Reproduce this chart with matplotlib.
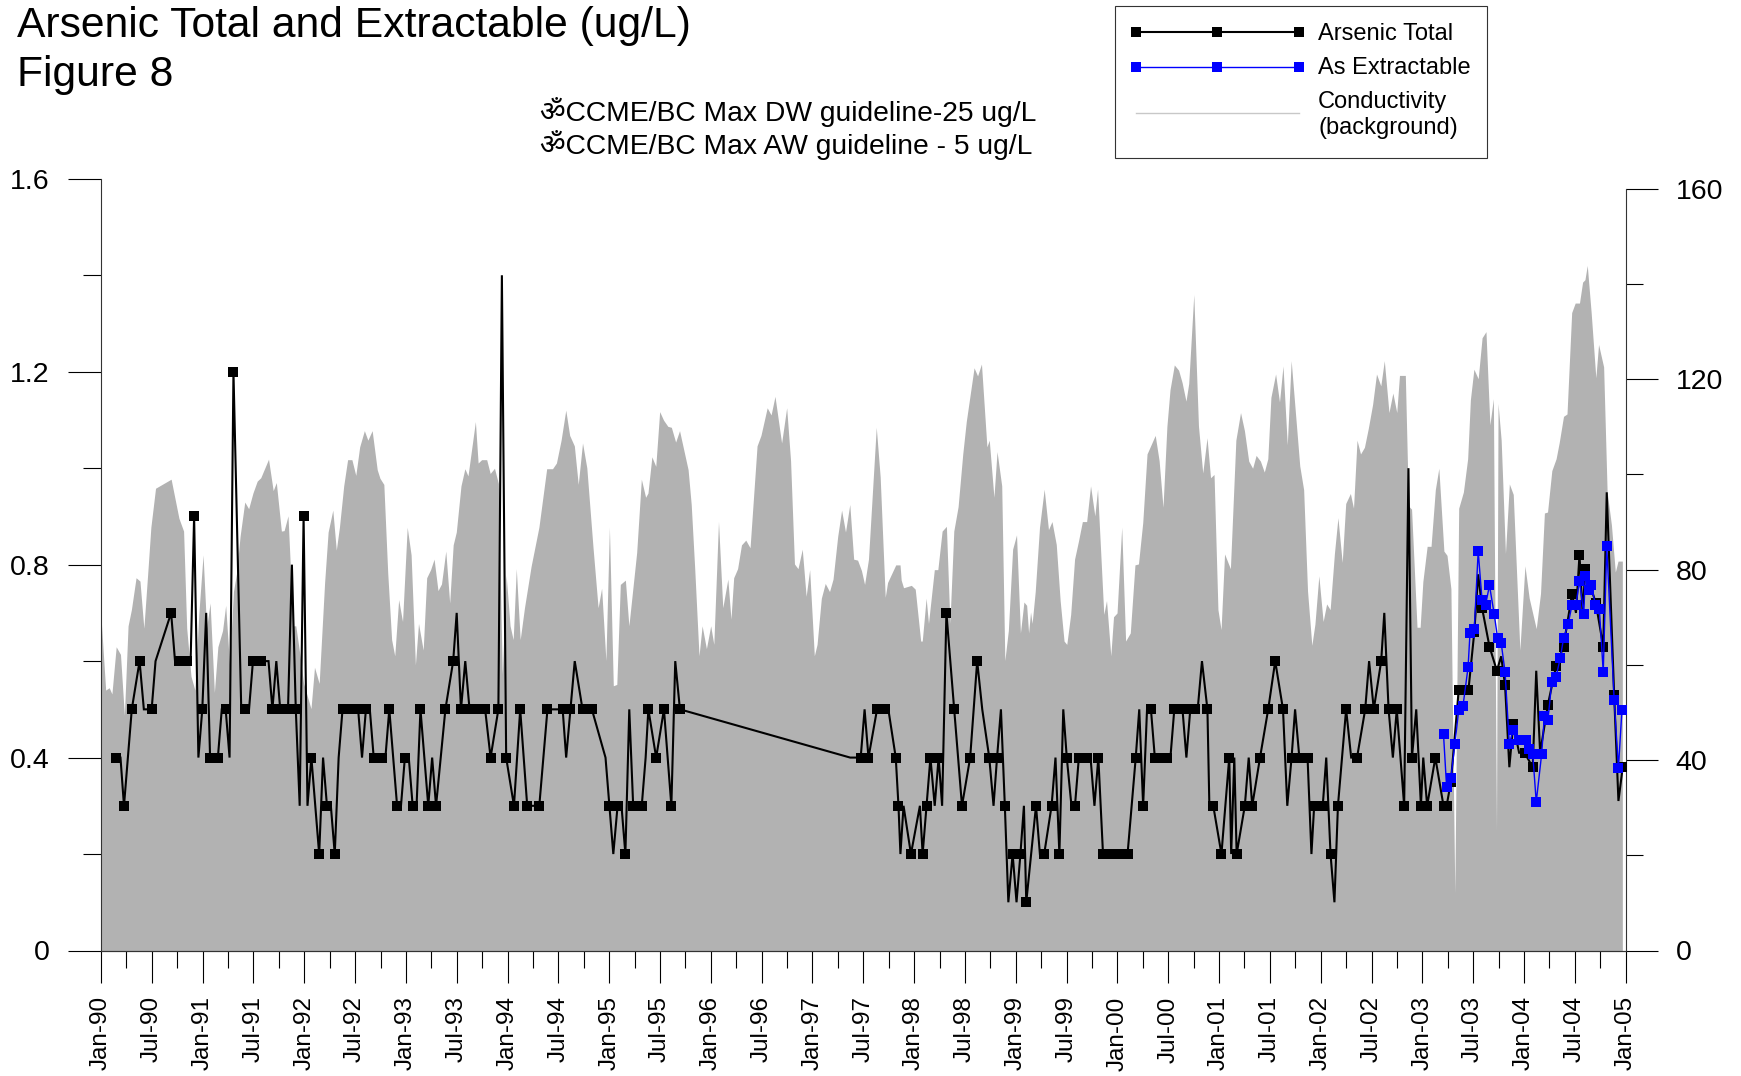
import matplotlib
matplotlib.use('Agg')
import matplotlib.pyplot as plt
from matplotlib.lines import Line2D
from matplotlib.patches import Rectangle
from matplotlib.ticker import MultipleLocator, FixedLocator, FixedFormatter

plt.rcParams['font.family'] = ['Liberation Sans', 'Noto Sans', 'DejaVu Sans']

# sampling runs on a 14 day cycle, so time is kept as fortnights since Jan-90
FORTNIGHT = 14 / 365.25

total_k = [
    3.9, 5, 5.9, 7.9, 9.9, 11, 11.8, 13, 14, 18,
    19, 20, 21, 22, 23, 23.9, 25, 26, 27, 28,
    29, 30, 31, 32, 33, 34, 36, 37, 38, 39,
    40, 41, 42, 43, 44, 45, 46, 47, 48, 49,
    50, 51, 52, 53, 54, 55, 56, 57, 58, 59,
    60, 61, 62, 63, 64, 65, 66, 67, 68, 69,
    70, 71, 72, 73, 74, 76, 77, 78, 79, 80,
    81, 82, 84, 85, 86, 88.4, 90.4, 91.3, 92.4, 93.5,
    94.6, 95.6, 96.6, 97.6, 98.6, 100, 102, 102.9, 104, 106,
    107.6, 109.4, 110.5, 112.5, 114.6, 116.7, 118.5, 119.4, 120.5, 121.6,
    123.6, 126, 129.5, 130.5, 131.5, 132.6, 133.6, 134.6, 135.6, 136.6,
    137.7, 138.8, 139.8, 140.5, 142.5, 144.5, 146.4, 147.4, 148.6, 192.3,
    195, 196, 197, 199.2, 201.2, 202.1, 204, 204.7, 205.2, 206,
    207.9, 210.2, 210.9, 211.9, 212.9, 214, 215, 215.9, 217, 219,
    221, 223.1, 224.9, 226.2, 228, 229.1, 230, 231, 232, 232.9,
    234, 235, 236, 236.9, 237.5, 240, 241, 242.1, 244, 245,
    246, 247, 247.9, 249.1, 250, 251, 252, 253, 254, 255,
    256, 257.2, 258.3, 259.3, 260.3, 261.3, 262.3, 263.5, 265.6, 266.5,
    267.5, 268.5, 269.5, 270.5, 271.6, 272.5, 273.6, 274.5, 275.5, 276.6,
    277.6, 278.6, 279.6, 280.7, 281.5, 282.6, 284, 284.5, 285.5, 287.6,
    289.6, 290.1, 290.9, 291.5, 293.6, 294.6, 295.5, 297.5, 299.6, 301.4,
    303.4, 304.5, 305.6, 306.5, 307.6, 309.7, 310.7, 311.4, 313.6, 314.5,
    315.6, 316.6, 317.5, 319.6, 320.9, 322.4, 324.5, 325.5, 326.7, 328.6,
    329.4, 330.5, 331.6, 332.6, 334.5, 335.6, 336.5, 337.6, 338.8, 339.4,
    340.4, 342.5, 344.6, 345.4, 346.5, 348.5, 351, 352.5, 353.5, 354.5,
    356.4, 358.3, 359.4, 360.4, 361.5, 362.5, 364, 365.4, 367.5, 368.4,
    369.4, 371.4, 373.5, 375.4, 377.6, 378.6, 379.5, 380.3, 381, 383.7,
    385.6, 386.5, 388.4, 389.5, 390.6,
]
total_val = [
    .4, .4, .3, .5, .6, .5, .5, .5, .6, .7,
    .6, .6, .6, .6, .6, .9, .4, .5, .7, .4,
    .4, .4, .5, .5, .4, 1.2, .5, .5, .5, .6,
    .6, .6, .6, .6, .5, .6, .5, .5, .5, .8,
    .5, .3, .9, .3, .4, .3, .2, .4, .3, .3,
    .2, .4, .5, .5, .5, .5, .5, .4, .5, .5,
    .4, .4, .4, .4, .5, .3, .3, .4, .4, .3,
    .3, .5, .3, .4, .3, .5, .6, .7, .5, .6,
    .5, .5, .5, .5, .5, .4, .5, 1.4, .4, .3,
    .5, .3, .3, .3, .5, .5, .5, .4, .5, .6,
    .5, .5, .4, .3, .2, .3, .3, .2, .5, .3,
    .3, .3, .4, .5, .4, .5, .3, .6, .5, .4,
    .4, .5, .4, .5, .5, .5, .4, .3, .2, .3,
    .2, .3, .2, .3, .4, .3, .4, .3, .7, .5,
    .3, .4, .6, .5, .4, .3, .4, .5, .3, .1,
    .2, .1, .2, .3, .1, .3, .2, .2, .3, .4,
    .2, .5, .4, .3, .3, .4, .4, .4, .4, .3,
    .4, .2, .2, .2, .2, .2, .2, .2, .4, .5,
    .3, .5, .5, .4, .4, .4, .4, .4, .5, .5,
    .5, .4, .5, .5, .5, .6, .5, .3, .3, .2,
    .4, .2, .4, .2, .3, .4, .3, .4, .5, .6,
    .5, .3, .4, .5, .4, .4, .2, .3, .3, .4,
    .2, .1, .3, .5, .4, .4, .5, .6, .5, .6,
    .7, .5, .4, .5, .3, 1.0, .4, .5, .3, .4,
    .3, .4, .3, .3, .35, .54, .54, .66, .78, .71,
    .63, .58, .61, .55, .38, .47, .41, .41, .38, .58,
    .41, .51, .59, .63, .74, .7, .82, .7, .79, .72,
    .63, .95, .53, .31, .38,
]
# samples plotted without a square on the original
total_no_marker = [
    5, 11, 11.8, 14, 19, 23, 25, 27, 31, 33, 36, 38, 42, 43, 45, 49, 51, 53, 55, 57, 59, 61,
    67, 69, 73, 77, 79, 81, 85, 91.3, 93.5, 102.9, 110.5, 116.7, 119.4, 121.6, 129.5, 131.5,
    133.6, 135.6, 137.7, 139.8, 147.4, 192.3, 196, 202.1, 205.2, 206, 210.2, 214, 215.9,
    226.2, 229.1, 231, 232.9, 235, 236.9, 241, 245, 247, 249.1, 254, 255, 266.5, 268.5, 271.6,
    274.5, 278.6, 281.5, 282.6, 284.5, 290.1, 290.9, 294.6, 304.5, 306.5, 310.7, 314.5, 316.6,
    320.9, 325.5, 329.4, 331.6, 335.6, 337.6, 339.4, 353.5, 359.4, 361.5, 364, 368.4, 369.4,
    378.6, 380.3, 386.5, 389.5,
]

extract_k = [
    344.6, 345.4, 346.5, 347.5, 348.5, 349.6, 350.9, 351.4, 352.5, 353.5,
    354.5, 355.4, 356.4, 357.6, 358.5, 359.4, 360.4, 361.5, 362.5, 364,
    365.7, 366.6, 367.5, 368.4, 369.8, 370.5, 371.4, 372.4, 373.5, 374.6,
    375.4, 376.6, 377.6, 378.6, 379.5, 380.6, 381, 381.9, 382.5, 383.6,
    384.6, 385.6, 386.5, 388.4, 389.5, 390.4,
]
extract_val = [
    .448, .338, .357, .428, .498, .507, .587, .658, .666, .828,
    .726, .717, .757, .698, .647, .638, .577, .428, .457, .437,
    .437, .418, .408, .308, .408, .487, .478, .557, .568, .607,
    .647, .677, .717, .717, .767, .698, .777, .748, .757, .717,
    .708, .577, .838, .52, .379, .498,
]

cond_k = [
    0, 1.2, 2.1, 2.8, 3.9, 5, 6, 6.95, 7.8, 9, 10, 11, 12, 12.8, 14, 18, 20, 21.2, 22, 23.1,
    24.1, 25.1, 26.2, 27.1, 28, 29.1, 30, 31.2, 32, 33, 34, 34.8, 35.7, 36.9, 37.9, 39, 40.1,
    41, 43, 44.2, 45, 46.3, 47, 48, 49.3, 50, 51.1, 52, 53.9, 54.8, 56, 57.4, 58.3, 59.5, 60.4,
    61.2, 62.3, 63.3, 64.4, 65.4, 66.4, 67.6, 68.5, 69.6, 70.9, 71.6, 72.6, 73.6, 74.6, 75.4,
    76.4, 77.4, 78.6, 79.6, 80.7, 81.5, 82.7, 83.6, 84.6, 85.5, 86.5, 87.4, 88.5, 89.5, 90.4,
    91.2, 92.4, 93.4, 94.2, 96.1, 96.8, 97.7, 99, 99.9, 101, 102, 103, 104, 105, 105.8, 106.6,
    107.6, 108.7, 110.4, 112.4, 114.4, 115.9, 116.9, 118.1, 119.3, 120.3, 121.5, 122.5, 123.6,
    124.7, 126.3, 127.6, 128.5, 129.6, 130.5, 131.5, 132.4, 133.3, 134.6, 135.5, 137.5, 138.7,
    139.8, 140.4, 141.4, 142.4, 143.4, 144.4, 145.5, 146.4, 147.5, 148.5, 150.7, 151.5, 152.4,
    153.5, 154.3, 155.4, 156.5, 157.3, 158.5, 159.6, 160.9, 161.7, 162.4, 163.4, 164.4, 165.5,
    166.6, 168.4, 169.4, 171, 172, 173, 174.7, 176, 177, 178, 178.9, 180, 181, 181.9, 183.1,
    183.8, 184.9, 185.9, 187, 187.9, 189.1, 190.1, 191.1, 192.2, 193.2, 194.2, 195.2, 196, 197,
    199, 200, 201.3, 201.9, 204, 205.1, 205.4, 206, 208, 209, 210.4, 210.8, 211.8, 212.4, 213.9,
    214.8, 215.9, 217, 217.9, 218.9, 220, 221.2, 222.1, 224.1, 225, 226, 227.4, 228, 229.2, 230,
    231.2, 232, 232.9, 234, 235, 236, 236.9, 237.6, 238.1, 238.6, 239, 239.8, 240.9, 242.1,
    243.2, 244.1, 245.2, 246.2, 247.2, 247.9, 248.9, 249.9, 250.9, 251.9, 253, 254, 255.1, 255.8,
    257.4, 258.1, 259.2, 259.9, 260.8, 262, 263, 264.2, 265.4, 266.3, 267.4, 268.5, 270.6, 271.6,
    272.6, 273.6, 274.4, 275.5, 276.6, 277.5, 278.5, 279.2, 280.5, 281.7, 282.8, 283.9, 284.8,
    285.7, 286.7, 287.5, 288.4, 289.9, 291.3, 292.5, 293.5, 294.6, 295.6, 296.5, 297.6, 298.6,
    299.5, 300.3, 301.5, 302.5, 303.4, 304.5, 305.5, 307.7, 308.7, 309.7, 310.8, 311.6, 312.6,
    313.7, 314.6, 315.5, 316.6, 317.5, 318.6, 319.5, 320.7, 321.5, 322.4, 323.3, 324.3, 325.3,
    326.4, 327.4, 328.5, 329.4, 330.6, 331.6, 332.6, 333.3, 334.8, 335.6, 336.4, 337.8, 338.6,
    339.3, 340.4, 341.4, 342.5, 343.4, 344.7, 345.5, 346.5, 347.5, 348.5, 349.7, 350.8, 351.5,
    352.4, 353.5, 354.5, 355.5, 356.5, 357.4, 358.2, 358.6, 359.4, 360.5, 361.5, 362.5, 364.2,
    365.5, 366.6, 368.4, 369.5, 370.5, 371.3, 372.4, 373.5, 374.3, 375.4, 376.3, 377.5, 378.4,
    379.5, 380.3, 380.9, 381.5, 382.5, 383.7, 384.4, 385.7, 386.6, 387.7, 388.7, 389.4, 390.5,
]
cond_val = [
    70.1, 54.7, 55.2, 53.9, 63.8, 62.2, 49.4, 68.2, 71.6, 78.3, 77.6, 67.7, 79.3, 88.9, 97.1, 99, 90.8, 88.1, 67.7, 57.6,
    54.7, 70.6, 83.1, 67.7, 73, 54.2, 63.8, 67.2, 72.5, 60, 75.4, 79.3, 87, 94.2, 92.8, 96.1, 98.6,
    99.3, 103.2, 96.6, 98.3, 88.1, 88.2, 91.3, 68.2, 68.2, 61.9, 56.1, 50.8, 59.5, 56.1, 77.3, 87.9, 92.5, 84.1,
    88.9, 97.6, 103.1, 103.1, 99.8, 105.8, 109.2, 107.2, 109.2, 101, 99.2, 97.9, 79.3, 65.3, 61.9,
    73.7, 69.1, 88.9, 83.1, 60, 68.7, 63.1, 78.3, 80, 82.2, 75.6, 77, 83.9, 73, 85.2,
    87.9, 97.6, 101.2, 99.7, 111.1, 102.4, 103.1, 103.1, 100.2, 101.3, 98.1, 58, 78.8, 68.2, 65.3, 80.2,
    65.3, 72, 80.7, 88.9, 101.2, 101.2, 102.4, 107.2, 113.5, 108.2, 106, 97.9, 106.6,
    101.4, 84.6, 72, 76.1, 60.9, 88.9, 55.6, 55.9, 76.9, 77.8, 68.2, 83.6, 99,
    95.2, 96.1, 103.7, 101.7, 113.2, 111.4, 110.1, 109.9, 106.8, 109.2, 101, 93.7, 80.2,
    61.9, 68.2, 63.4, 68.2, 64.3, 90.1, 72, 78, 69.6, 78.3, 80.2, 85.2, 86.2,
    84.6, 106, 108.2, 114, 112.5, 116.4, 106.6, 114, 102.9, 81.2, 80.2, 84.3, 74.4, 80, 61.9,
    64.3, 74, 77.1, 75.4, 78, 87, 92.5, 87.9, 93.7, 82.2, 82, 79.8, 76.9, 82.2,
    109.9, 99.5, 74.2, 77.3, 81, 81, 77.8, 76.2, 76.7, 75.9, 65, 65, 74, 68.7, 80,
    80, 88.1, 89.1, 68.7, 88.1, 93.2, 104.3, 111.1, 122.4, 120.7, 123.2, 105.8, 107.2, 95.2, 104.8,
    97.6, 60.9, 67.2, 84.3, 87.3, 66.7, 73.2, 72.5, 66.7, 71.1, 68.7, 75.4, 88.9, 96.9,
    88.4, 90.1, 85.3, 73.5, 65, 64.3, 70.6, 82.2, 86, 90.1, 90.1, 97.6, 91.3, 96.9,
    70.6, 73.5, 61.9, 70.1, 70.9, 88.9, 65, 66.7, 81, 81.2, 89.9, 104.3, 108.2, 102.9,
    93.1, 110.1, 117.8, 123, 121.9, 119.3, 115.4, 119.1, 137.8, 110.2, 100.3, 107.7, 99.3,
    100, 71.6, 67.4, 83.3, 80.2, 107.2, 113, 109.2, 102.8, 101.3, 104, 102.8, 100.5,
    103.3, 116.2, 121.1, 115.2, 122.8, 106.2, 123.9, 101.8, 96.8, 75.5, 64.1, 68.6, 78.7,
    69.1, 72.8, 71.6, 83.4, 90.9, 81.5, 93.9, 96, 92.9, 107.2, 104.3, 105.7, 109.7,
    114.7, 121.1, 118.6, 123.9, 113, 117.1, 113, 120.8, 120.8, 93.4, 92.7, 67.9, 67.9,
    77.5, 84.9, 84.9, 96.8, 101.3, 83.9, 83, 76, 12.1, 92.9, 96.3, 103.3, 115.7,
    122.1, 120.1, 128.7, 130, 110.4, 115.9, 25, 114.9, 107.2, 83.4, 98, 95.8, 63.1,
    80.8, 74, 67.6, 75, 91.9, 92.1, 100.8, 103.3, 106.7, 112.2, 112.7, 134, 136,
    136, 140.4, 140.9, 143.9, 134, 120.3, 127.3, 122.6, 96.3, 89.4, 79.5, 81.8, 81.8,
]

date_labels = ['Jan-90', 'Jul-90', 'Jan-91', 'Jul-91', 'Jan-92', 'Jul-92', 'Jan-93', 'Jul-93',
               'Jan-94', 'Jul-94', 'Jan-95', 'Jul-95', 'Jan-96', 'Jul-96', 'Jan-97', 'Jul-97',
               'Jan-98', 'Jul-98', 'Jan-99', 'Jul-99', 'Jan-00', 'Jul-00', 'Jan-01', 'Jul-01',
               'Jan-02', 'Jul-02', 'Jan-03', 'Jul-03', 'Jan-04', 'Jul-04', 'Jan-05']
left_ticks = [0, 0.4, 0.8, 1.2, 1.6]
left_labels = ['0', '0.4', '0.8', '1.2', '1.6']
right_ticks = [0, 40, 80, 120, 160]


def to_year(k_values):
    return [1990 + k * FORTNIGHT for k in k_values]


W, H = 1741, 1076
fig = plt.figure(figsize=(W / 100, H / 100), dpi=100)
ax = fig.add_axes([101 / W, (H - 950.5) / H, 1524.6 / W, 771.7 / H])
ax2 = ax.twinx()
ax.set_zorder(ax2.get_zorder() + 1)
ax.patch.set_visible(False)

# background conductivity
ax2.fill_between(to_year(cond_k), cond_val, 0, color='#B2B2B2', lw=0)

marks = [i for i, k in enumerate(total_k) if k not in total_no_marker]
ax.plot(to_year(total_k), total_val, color='black', lw=1.5, marker='s', ms=7, mew=0,
        markevery=marks, solid_joinstyle='miter')
ax.plot(to_year(extract_k), extract_val, color='#0000FF', lw=1.0, marker='s', ms=7, mew=0)

ax.set_xlim(1990, 2005)
ax.set_ylim(0, 1.6)
ax2.set_ylim(0, 160 * 771.7 / 761.7)

for side in ['top', 'right']:
    ax.spines[side].set_visible(False)
for side in ['top', 'left']:
    ax2.spines[side].set_visible(False)
ax2.spines['right'].set_bounds(0, 160)
for a in [ax, ax2]:
    for s in a.spines.values():
        s.set_linewidth(0.8)
        s.set_color('#333333')

major_x = [1990 + i / 2 for i in range(len(date_labels))]
ax.xaxis.set_major_locator(FixedLocator(major_x))
ax.xaxis.set_major_formatter(FixedFormatter(date_labels))
ax.xaxis.set_minor_locator(MultipleLocator(0.25))
ax.tick_params(axis='x', which='major', length=23, width=0.8, pad=10, labelsize=17.5, labelrotation=90)
ax.tick_params(axis='x', which='minor', length=12, width=0.8)

ax.yaxis.set_major_locator(FixedLocator(left_ticks))
ax.yaxis.set_major_formatter(FixedFormatter(left_labels))
ax.yaxis.set_minor_locator(MultipleLocator(0.2))
ax.tick_params(axis='y', which='major', length=24, width=0.8, pad=13, labelsize=20.5)
ax.tick_params(axis='y', which='minor', length=13, width=0.8)

ax2.yaxis.set_major_locator(FixedLocator(right_ticks))
ax2.yaxis.set_minor_locator(FixedLocator([20, 60, 100, 140]))
ax2.tick_params(axis='y', which='major', length=23, width=0.8, pad=13, labelsize=20.5)
ax2.tick_params(axis='y', which='minor', length=12, width=0.8)

fig.text(17 / W, 1 - 36.5 / H, 'Arsenic Total and Extractable (ug/L)', fontsize=30.7, va='baseline')
fig.text(17 / W, 1 - 86 / H, 'Figure 8', fontsize=30.7, va='baseline')
fig.text(540 / W, 1 - 121 / H, '\u0950CCME/BC Max DW guideline-25 ug/L', fontsize=20.3, va='baseline')
fig.text(540 / W, 1 - 154 / H, '\u0950CCME/BC Max AW guideline - 5 ug/L', fontsize=20.3, va='baseline')

# legend box placed by hand, the library's legend can't pad it the same way
fig.add_artist(Rectangle((1115 / W, 1 - 158 / H), 372 / W, 152.5 / H, transform=fig.transFigure,
                         facecolor='white', edgecolor='#333333', lw=0.8))
legend_x = [1136 / W, 1217 / W, 1299 / W]
fig.add_artist(Line2D(legend_x, [1 - 32 / H] * 3, color='black', lw=1.5, marker='s', ms=7, mew=0))
fig.add_artist(Line2D(legend_x, [1 - 66.5 / H] * 3, color='#0000FF', lw=1.0, marker='s', ms=7, mew=0))
fig.add_artist(Line2D([legend_x[0], legend_x[2]], [1 - 113 / H] * 2, color='#C8C8C8', lw=1.0))
fig.text(1318 / W, 1 - 39.5 / H, 'Arsenic Total', fontsize=17, va='baseline')
fig.text(1318 / W, 1 - 74 / H, 'As Extractable', fontsize=17, va='baseline')
fig.text(1318 / W, 1 - 108 / H, 'Conductivity', fontsize=17, va='baseline')
fig.text(1318 / W, 1 - 134 / H, '(background)', fontsize=17, va='baseline')

fig.savefig('out.png', dpi=100)
